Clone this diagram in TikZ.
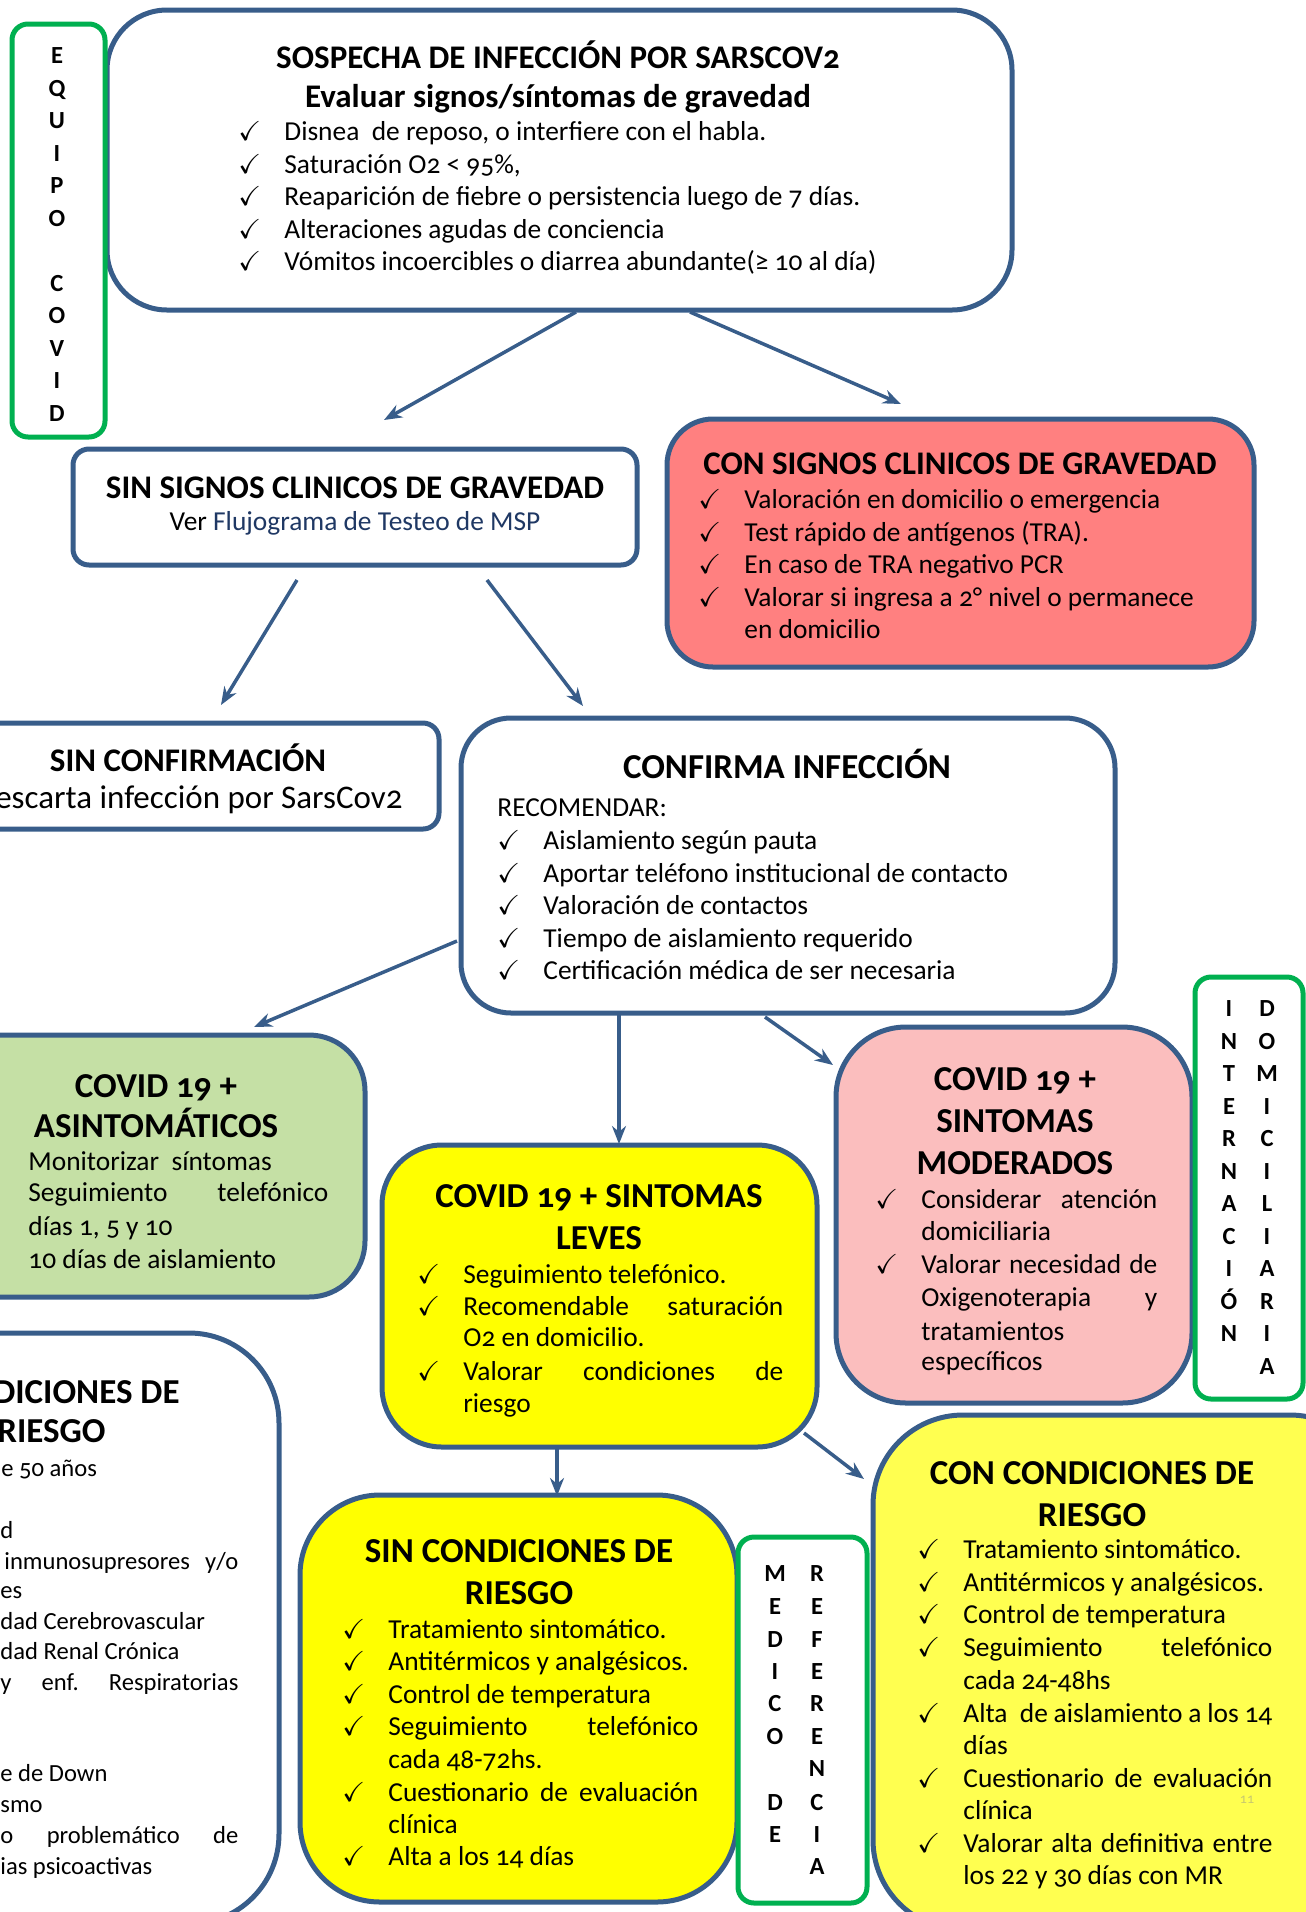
\documentclass[tikz,border=0pt]{standalone}
\usepackage{amssymb}
\usepackage{fontspec}
\setmainfont{Carlito}[Numbers=OldStyle]
\usetikzlibrary{fit,arrows.meta}
\definecolor{bblue}{RGB}{56,93,138}
\definecolor{bgreen}{RGB}{0,176,80}
\definecolor{fred}{RGB}{255,128,128}
\definecolor{fpink}{RGB}{251,190,190}
\definecolor{fgreen}{RGB}{197,224,165}
\definecolor{fyel}{RGB}{255,255,0}
\definecolor{fyelb}{RGB}{255,255,80}
\definecolor{navy}{RGB}{31,56,100}
\definecolor{pgnum}{RGB}{200,200,110}
\newcommand\bodyf{\fontsize{13.7pt}{16.6pt}\selectfont}
\newcommand\sbodyf{\fontsize{12.3pt}{15pt}\selectfont}
\newcommand\ttlA{\fontsize{16.5pt}{20pt}\selectfont\bfseries}
\newcommand\ttlB{\fontsize{17.5pt}{21pt}\selectfont\bfseries}
\newcommand\vertf{\fontsize{12.3pt}{14pt}\selectfont\bfseries}
\newcounter{tn}
\newcommand\T[4][]{\stepcounter{tn}\node[txt,#1] (t\arabic{tn}) at (#2,#3) {#4};}
\newcommand\Ttl[4][]{\stepcounter{tn}\node[ttl,#1] (t\arabic{tn}) at (#2,#3) {#4};}
\newcommand\Bul[4][]{\T[#1]{#2}{#3}{$\checkmark$}\T[#1]{#2+46}{#3}{#4}}
\newcommand\Vl[3]{\stepcounter{tn}\node[vl] (t\arabic{tn}) at (#1,#2) {#3};}
\newcommand\J[2]{\makebox[\dimexpr#1pt/2\relax][l]{#2}}
\tikzset{
  bluebox/.style={draw=bblue, line width=2.5pt, inner sep=0pt, fill=white},
  greenbox/.style={draw=bgreen, line width=2.5pt, inner sep=0pt, fill=white, rounded corners=8pt},
  txt/.style={anchor=base west, inner sep=0pt, font=\bodyf},
  ttl/.style={anchor=base, inner sep=0pt, font=\ttlB},
  vl/.style={anchor=base, inner sep=0pt, font=\vertf},
  arr/.style={draw=bblue, line width=1.75pt, -{Stealth[length=9pt,width=7pt]}}
}
\begin{document}
\begin{tikzpicture}[x=0.5pt,y=-0.5pt]
\useasboundingbox (0,0) rectangle (1306,1912);
\clip (0,0) rectangle (1306,1912);
% ---------- boxes ----------
\node[bluebox, rounded corners=30pt, fit={(107,10)(1012,310)}] (sospecha) {};
\node[greenbox, fit={(12,24)(105,437)}] (equipo) {};
\node[bluebox, rounded corners=8pt, fit={(73,449)(637,565)}] (sinsignos) {};
\node[bluebox, fill=fred, rounded corners=23pt, fit={(667,419)(1254,667)}] (consignos) {};
\node[bluebox, rounded corners=8pt, fit={(-40,723)(439,829)}] (sinconf) {};
\node[bluebox, rounded corners=25pt, fit={(461,718)(1115,1013)}] (confirma) {};
\node[bluebox, fill=fgreen, rounded corners=28pt, fit={(-60,1035)(365,1297)}] (asint) {};
\node[bluebox, fill=fyel, rounded corners=30pt, fit={(382,1145)(817,1447)}] (leves) {};
\node[bluebox, fill=fpink, rounded corners=35pt, fit={(836,1027)(1192,1403)}] (moderados) {};
\node[greenbox, fit={(1195,977)(1303,1399)}] (internacion) {};
\node[bluebox, rounded corners=45pt, fit={(-200,1333)(279,1924)}] (condriesgo) {};
\node[bluebox, fill=fyel, rounded corners=40pt, fit={(300,1495)(737,1902)}] (sincond) {};
\node[greenbox, fit={(738,1537)(867,1903)}] (medico) {};
\node[bluebox, fill=fyelb, rounded corners=45pt, fit={(873,1415)(1380,1930)}] (concond) {};
% ---------- connectors ----------
\coordinate (a1s) at (576,312); \coordinate (a1e) at (384,420);
\coordinate (a2s) at (690,312); \coordinate (a2e) at (901,404);
\coordinate (b1s) at (297,580); \coordinate (b1e) at (221,705);
\coordinate (b2s) at (487,580); \coordinate (b2e) at (583,706);
\coordinate (c1s) at (457,941); \coordinate (c1e) at (254,1027);
\coordinate (c2s) at (619,1015); \coordinate (c2e) at (619,1144);
\coordinate (c3s) at (765,1017); \coordinate (c3e) at (833,1065);
\coordinate (d1s) at (557,1448); \coordinate (d1e) at (557,1496);
\coordinate (d2s) at (804,1433); \coordinate (d2e) at (864,1479);
\draw[arr] (a1s) -- (a1e);
\draw[arr] (a2s) -- (a2e);
\draw[arr] (b1s) -- (b1e);
\draw[arr] (b2s) -- (b2e);
\draw[arr] (c1s) -- (c1e);
\draw[arr] (c2s) -- (c2e);
\draw[arr] (c3s) -- (c3e);
\draw[arr] (d1s) -- (d1e);
\draw[arr] (d2s) -- (d2e);
% ---------- top box ----------
\Ttl[font=\ttlA]{558}{68}{SOSPECHA DE INFECCIÓN POR SARSCOV2}
\Ttl[font=\ttlA]{558}{107}{Evaluar signos/síntomas de gravedad}
\Bul{238}{140}{Disnea \ de reposo, o interfiere con el habla.}
\Bul{238}{173}{Saturación O2 < 95\%,}
\Bul{238}{205}{Reaparición de fiebre o persistencia luego de 7 días.}
\Bul{238}{238}{Alteraciones agudas de conciencia}
\Bul{238}{270}{Vómitos incoercibles o diarrea abundante(≥ 10 al día)}
% ---------- EQUIPO COVID ----------
\Vl{57}{63}{E}\Vl{57}{96}{Q}\Vl{57}{128}{U}\Vl{57}{161}{I}\Vl{57}{193}{P}\Vl{57}{226}{O}
\Vl{57}{291}{C}\Vl{57}{323}{O}\Vl{57}{356}{V}\Vl{57}{388}{I}\Vl{57}{421}{D}
% ---------- sin signos ----------
\Ttl[font=\ttlA]{355}{498}{SIN SIGNOS CLINICOS DE GRAVEDAD}
\Ttl[font=\bodyf]{355}{530}{Ver \textcolor{navy}{Flujograma de Testeo de MSP}}
% ---------- con signos ----------
\Ttl[font=\ttlA]{960}{474}{CON SIGNOS CLINICOS DE GRAVEDAD}
\Bul{698}{508}{Valoración en domicilio o emergencia}
\Bul{698}{541}{Test rápido de antígenos (TRA).}
\Bul{698}{573}{En caso de TRA negativo PCR}
\Bul{698}{606}{Valorar si ingresa a 2° nivel o permanece}
\T{744}{638}{en domicilio}
% ---------- sin confirmacion ----------
\Ttl[font=\ttlA]{188}{771}{SIN CONFIRMACIÓN}
\T[anchor=base east, font=\fontsize{16.5pt}{20pt}\selectfont]{403}{808}{escarta infección por SarsCov2}
% ---------- confirma ----------
\Ttl{787}{778}{CONFIRMA INFECCIÓN}
\T{497}{816}{RECOMENDAR:}
\Bul{497}{849}{Aislamiento según pauta}
\Bul{497}{882}{Aportar teléfono institucional de contacto}
\Bul{497}{914}{Valoración de contactos}
\Bul{497}{947}{Tiempo de aislamiento requerido}
\Bul{497}{979}{Certificación médica de ser necesaria}
% ---------- asintomaticos ----------
\Ttl{156}{1097}{COVID 19 +}
\Ttl{156}{1137}{ASINTOMÁTICOS}
\T{28}{1170}{Monitorizar \ síntomas}
\T{28}{1201}{\J{300}{Seguimiento\hfill telefónico}}
\T{28}{1235}{días 1, 5 y 10}
\T{28}{1268}{10 días de aislamiento}
% ---------- leves ----------
\Ttl{599}{1207}{COVID 19 + SINTOMAS}
\Ttl{599}{1249}{LEVES}
\Bul{417}{1283}{Seguimiento telefónico.}
\Bul{417}{1315}{\J{320}{Recomendable\hfill saturación}}
\T{463}{1346}{O2 en domicilio.}
\Bul{417}{1380}{\J{320}{Valorar\hfill condiciones\hfill de}}
\T{463}{1412}{riesgo}
% ---------- moderados ----------
\Ttl{1015}{1090}{COVID 19 +}
\Ttl{1015}{1132}{SINTOMAS}
\Ttl{1015}{1174}{MODERADOS}
\Bul{875}{1208}{\J{236}{Considerar\hfill atención}}
\T{921}{1240}{domiciliaria}
\Bul{875}{1273}{\J{236}{Valorar\hfill necesidad\hfill de}}
\T{921}{1306}{\J{236}{Oxigenoterapia\hfill y}}
\T{921}{1340}{tratamientos}
\T{921}{1370}{específicos}
% ---------- internacion domiciliaria ----------
\Vl{1229}{1016}{I}\Vl{1229}{1049}{N}\Vl{1229}{1081}{T}\Vl{1229}{1114}{E}\Vl{1229}{1146}{R}
\Vl{1229}{1179}{N}\Vl{1229}{1211}{A}\Vl{1229}{1244}{C}\Vl{1229}{1276}{I}\Vl{1229}{1309}{Ó}\Vl{1229}{1341}{N}
\Vl{1267}{1016}{D}\Vl{1267}{1049}{O}\Vl{1267}{1081}{M}\Vl{1267}{1114}{I}\Vl{1267}{1146}{C}\Vl{1267}{1179}{I}
\Vl{1267}{1211}{L}\Vl{1267}{1244}{I}\Vl{1267}{1276}{A}\Vl{1267}{1309}{R}\Vl{1267}{1341}{I}\Vl{1267}{1374}{A}
% ---------- condiciones de riesgo (left, cut) ----------
\Ttl[anchor=base east]{180}{1403}{DICIONES DE}
\Ttl[anchor=base east]{106}{1442}{RIESGO}
\T[font=\sbodyf]{1}{1476}{e 50 años}
\T[font=\sbodyf]{0}{1538}{d}
\T[font=\sbodyf]{4}{1569}{\J{234}{inmunosupresores\hfill y/o}}
\T[font=\sbodyf]{0}{1598}{es}
\T[font=\sbodyf]{0}{1629}{dad Cerebrovascular}
\T[font=\sbodyf]{0}{1659}{dad Renal Crónica}
\T[font=\sbodyf]{0}{1690}{\J{238}{y\hfill enf.\hfill Respiratorias}}
\T[font=\sbodyf]{0}{1781}{e de Down}
\T[font=\sbodyf]{0}{1812}{smo}
\T[font=\sbodyf]{0}{1843}{\J{238}{o\hfill problemático\hfill de}}
\T[font=\sbodyf]{0}{1874}{ias psicoactivas}
% ---------- sin condiciones ----------
\Ttl{519}{1562}{SIN CONDICIONES DE}
\Ttl{519}{1604}{RIESGO}
\Bul{342}{1638}{Tratamiento sintomático.}
\Bul{342}{1670}{Antitérmicos y analgésicos.}
\Bul{342}{1703}{Control de temperatura}
\Bul{342}{1735}{\J{310}{Seguimiento\hfill telefónico}}
\T{388}{1768}{cada 48-72hs.}
\Bul{342}{1801}{\J{310}{Cuestionario\hfill de\hfill evaluación}}
\T{388}{1833}{clínica}
\Bul{342}{1865}{Alta a los 14 días}
% ---------- medico de referencia ----------
\Vl{775}{1581}{M}\Vl{775}{1614}{E}\Vl{775}{1647}{D}\Vl{775}{1679}{I}\Vl{775}{1711}{C}\Vl{775}{1744}{O}
\Vl{775}{1810}{D}\Vl{775}{1842}{E}
\Vl{817}{1581}{R}\Vl{817}{1614}{E}\Vl{817}{1647}{F}\Vl{817}{1679}{E}\Vl{817}{1711}{R}\Vl{817}{1744}{E}
\Vl{817}{1776}{N}\Vl{817}{1810}{C}\Vl{817}{1842}{I}\Vl{817}{1874}{A}
% ---------- con condiciones ----------
\Ttl{1092}{1484}{CON CONDICIONES DE}
\Ttl{1092}{1526}{RIESGO}
\Bul{917}{1558}{Tratamiento sintomático.}
\Bul{917}{1591}{Antitérmicos y analgésicos.}
\Bul{917}{1623}{Control de temperatura}
\Bul{917}{1656}{\J{309}{Seguimiento\hfill telefónico}}
\T{963}{1689}{cada 24-48hs}
\Bul{917}{1722}{\J{309}{Alta \ de\hfill aislamiento\hfill a\hfill los\hfill 14}}
\T{963}{1754}{días}
\Bul{917}{1787}{\J{309}{Cuestionario\hfill de\hfill evaluación}}
\T{963}{1819}{clínica}
\Bul{917}{1852}{\J{309}{Valorar\hfill alta\hfill definitiva\hfill entre}}
\T{963}{1884}{los 22 y 30 días con MR}
\T[anchor=base, font=\fontsize{7pt}{8pt}\selectfont, text=pgnum]{1247}{1803}{11}
\end{tikzpicture}
\end{document}
